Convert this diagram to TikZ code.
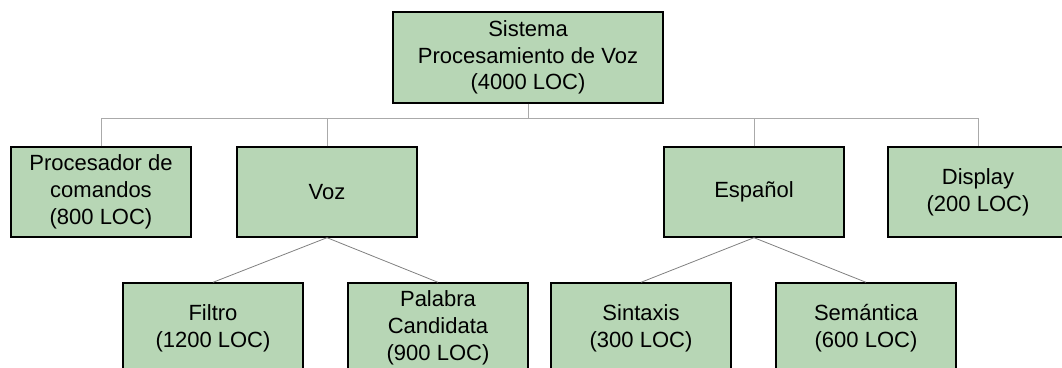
\documentclass[tikz,border=0pt]{standalone}
\usepackage{fontspec}
\setmainfont{Liberation Sans}
\definecolor{boxgreen}{RGB}{183,214,181}
\definecolor{busgray}{RGB}{170,170,170}
\definecolor{diaggray}{RGB}{128,128,128}
\begin{document}
\begin{tikzpicture}[x=1pt,y=1pt,
  box/.style={draw=black,line width=1.4pt,fill=boxgreen,minimum width=180pt,minimum height=90pt,
    inner sep=0pt,align=center,font=\fontsize{22}{26.7}\selectfont},
  busline/.style={draw=busgray,line width=0.9pt},
  diagline/.style={draw=diaggray,line width=0.8pt}]
\useasboundingbox (0,0) rectangle (1062,367);
\clip (0,0) rectangle (1062,367);
\node[box,minimum width=270pt,minimum height=91pt] (top) at (528,309.5) {Sistema\\Procesamiento de Voz\\(4000 LOC)};
\node[box] (proc) at (101,175) {Procesador de\\comandos\\(800 LOC)};
\node[box] (voz) at (327,175) {Voz};
\node[box] (esp) at (754,175) {Español};
\node[box] (disp) at (978,175) {Display\\(200 LOC)};
\node[box] (filtro) at (213,39) {Filtro\\(1200 LOC)};
\node[box] (pal) at (438,39) {Palabra\\Candidata\\(900 LOC)};
\node[box] (sin) at (641,39) {Sintaxis\\(300 LOC)};
\node[box] (sem) at (866,39) {Semántica\\(600 LOC)};
\coordinate (bus) at (0,249);
\draw[busline] (top.south) -- (top.south |- bus);
\draw[busline] (proc.north) -- (proc.north |- bus) -- (disp.north |- bus) -- (disp.north);
\draw[busline] (voz.north) -- (voz.north |- bus);
\draw[busline] (esp.north) -- (esp.north |- bus);
\draw[diagline] (voz.south) -- (filtro.north);
\draw[diagline] (voz.south) -- (pal.north);
\draw[diagline] (esp.south) -- (sin.north);
\draw[diagline] (esp.south) -- (sem.north);
\end{tikzpicture}
\end{document}
